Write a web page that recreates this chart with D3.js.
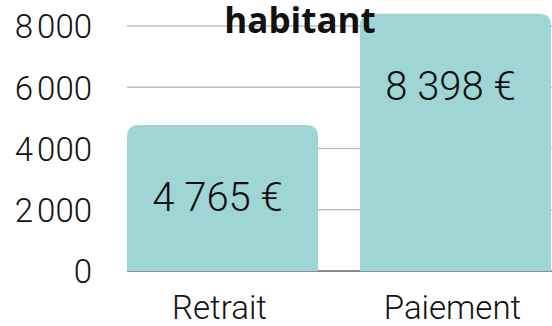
<!DOCTYPE html>
<html>
<head>
<meta charset="utf-8">
<script src="https://cdn.jsdelivr.net/npm/d3@7"></script>
<style>
  html, body { margin: 0; padding: 0; background: #fff; }
  svg { display: block; }
</style>
</head>
<body>
<svg id="chart" width="552" height="326"></svg>
<script>
// Average spending per inhabitant, by operation type
const categories = ["Retrait", "Paiement"];
const values = [4765, 8398];
const tickValues = [0, 2000, 4000, 6000, 8000];
const tickLabels = ["0", "2\u202F000", "4\u202F000", "6\u202F000", "8\u202F000"];
const titleText = "habitant";

const W = 552, H = 326;
const margin = { top: 26, right: 1, bottom: 55, left: 127 };
const barColor = "#a0d5d6";
const font = "Roboto, 'DejaVu Sans', sans-serif";

const svg = d3.select("#chart");

const x = d3.scaleBand()
  .domain(categories)
  .range([margin.left, W - margin.right])
  .paddingInner(0.18)
  .paddingOuter(0);

const y = d3.scaleLinear()
  .domain([0, 8000])
  .range([H - margin.bottom, margin.top]);

const euro = d3.formatLocale({
  decimal: ",", thousands: " ", grouping: [3], currency: ["", " €"]
}).format("$,.0f");

// Horizontal gridlines
svg.append("g")
  .selectAll("line")
  .data(tickValues.filter(d => d > 0))
  .join("line")
  .attr("x1", margin.left)
  .attr("x2", W)
  .attr("y1", d => y(d))
  .attr("y2", d => y(d))
  .attr("stroke", "#c0c0c0")
  .attr("stroke-width", 1.5);

// Baseline
svg.append("line")
  .attr("x1", margin.left)
  .attr("x2", W)
  .attr("y1", y(0))
  .attr("y2", y(0))
  .attr("stroke", "#666")
  .attr("stroke-width", 1.5);

// Y axis labels
const yAxis = d3.axisLeft(y)
  .tickValues(tickValues)
  .tickFormat((d, i) => tickLabels[i])
  .tickSize(0)
  .tickPadding(0);

const gy = svg.append("g")
  .attr("transform", `translate(${margin.left - 35},0)`)
  .call(yAxis);
gy.select(".domain").remove();
gy.selectAll("text")
  .attr("font-family", font)
  .attr("font-weight", 300)
  .attr("font-size", 33)
  .attr("fill", "#111")
  .attr("dy", "0.36em");

// Bars with rounded top corners
const r = 12;
function barPath(d, i) {
  const x0 = x(categories[i]);
  const x1 = x0 + x.bandwidth();
  const yt = y(d);
  const yb = y(0);
  return `M${x0},${yb}V${yt + r}Q${x0},${yt} ${x0 + r},${yt}` +
         `H${x1 - r}Q${x1},${yt} ${x1},${yt + r}V${yb}Z`;
}

svg.append("g")
  .selectAll("path")
  .data(values)
  .join("path")
  .attr("d", barPath)
  .attr("fill", barColor);

// Value labels inside the bars
svg.append("g")
  .selectAll("text")
  .data(values)
  .join("text")
  .attr("x", (d, i) => x(categories[i]) + x.bandwidth() / 2 - 5)
  .attr("y", d => y(d) + 72)
  .attr("dy", "0.36em")
  .attr("text-anchor", "middle")
  .attr("font-family", font)
  .attr("font-weight", 300)
  .attr("font-size", 40)
  .attr("fill", "#111")
  .text(d => euro(d));

// Category labels
const xAxis = d3.axisBottom(x).tickSize(0).tickPadding(0);
const gx = svg.append("g")
  .attr("transform", `translate(0,${y(0)})`)
  .call(xAxis);
gx.select(".domain").remove();
gx.selectAll("text")
  .attr("font-family", font)
  .attr("font-weight", 300)
  .attr("font-size", 33)
  .attr("fill", "#111")
  .attr("dy", "1.45em")
  .attr("x", -3);

// Title
svg.append("text")
  .attr("x", 300)
  .attr("y", 33)
  .attr("text-anchor", "middle")
  .attr("font-family", "'Open Sans', Lato, sans-serif")
  .attr("font-weight", 700)
  .attr("font-size", 35)
  .attr("fill", "#111")
  .text(titleText);
</script>
</body>
</html>
